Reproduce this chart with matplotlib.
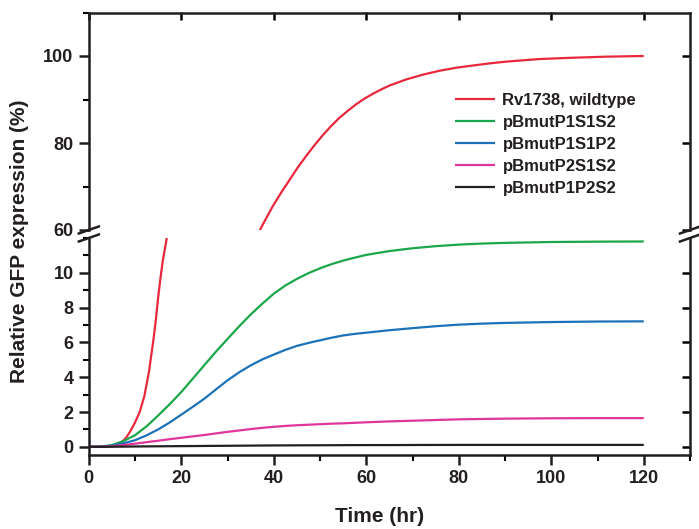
import numpy as np
import matplotlib
matplotlib.use("Agg")
import matplotlib.pyplot as plt
from matplotlib.ticker import MultipleLocator

plt.rcParams['font.family'] = ['Liberation Sans', 'DejaVu Sans']
plt.rcParams['font.weight'] = 'bold'

# ---- data ----
red_time = [0, 2, 3, 4, 5, 6, 7, 8, 9, 10, 11, 12, 13, 14, 14.5, 15, 15.5, 16, 16.8,
            36.9, 38.0, 39.8, 41.6, 43.4, 45.2, 47.0, 48.8, 50.6, 52.4, 54.2, 56.0,
            57.8, 59.6, 61.4, 63.2, 65.0, 68.6, 72.2, 75.8, 79.4, 83.0, 86.6, 90.2,
            97.4, 104.6, 112, 120]
red_value = [0, 0, 0, 0.03, 0.08, 0.15, 0.25, 0.5, 0.9, 1.4, 2.0, 2.9, 4.3, 6.2, 7.3,
             8.6, 9.7, 10.7, 11.9,
             59.8, 62.0, 65.5, 68.6, 71.5, 74.4, 77.0, 79.5, 81.8, 83.9, 85.8, 87.4,
             88.9, 90.2, 91.3, 92.3, 93.2, 94.6, 95.7, 96.6, 97.3, 97.8, 98.3, 98.7,
             99.3, 99.6, 99.85, 100]

time = [0, 2.5, 5, 7.5, 10, 12.5, 15, 17.5, 20, 22.5, 25, 27.5, 30, 32.5, 35, 37.5,
        40, 42.5, 45, 47.5, 50, 52.5, 55, 57.5, 60, 65, 70, 75, 80, 85, 90, 100,
        110, 120]
green = [0, 0.01, 0.1, 0.33, 0.67, 1.18, 1.8, 2.45, 3.15, 3.92, 4.7, 5.47, 6.2,
         6.92, 7.6, 8.22, 8.8, 9.27, 9.65, 9.98, 10.26, 10.5, 10.7, 10.87, 11.03,
         11.25, 11.41, 11.53, 11.62, 11.68, 11.72, 11.77, 11.79, 11.8]
blue = [0, 0.01, 0.06, 0.2, 0.38, 0.66, 1.0, 1.4, 1.85, 2.3, 2.77, 3.3, 3.82, 4.28,
        4.68, 5.02, 5.3, 5.57, 5.8, 5.97, 6.12, 6.27, 6.4, 6.49, 6.56, 6.7, 6.82,
        6.93, 7.02, 7.08, 7.12, 7.17, 7.2, 7.21]
magenta = [0, 0, 0.03, 0.1, 0.18, 0.27, 0.35, 0.44, 0.52, 0.6, 0.68, 0.77, 0.86,
           0.94, 1.02, 1.09, 1.15, 1.2, 1.24, 1.27, 1.3, 1.33, 1.35, 1.38, 1.41,
           1.46, 1.5, 1.54, 1.58, 1.6, 1.62, 1.64, 1.65, 1.65]
black = [0, 0, 0.005, 0.01, 0.02, 0.025, 0.03, 0.035, 0.04, 0.045, 0.05, 0.055,
         0.06, 0.065, 0.07, 0.075, 0.08, 0.082, 0.085, 0.088, 0.09, 0.092, 0.095,
         0.098, 0.1, 0.1, 0.105, 0.108, 0.11, 0.11, 0.11, 0.11, 0.11, 0.11]

labels = ["Rv1738, wildtype", "pBmutP1S1S2", "pBmutP1S1P2", "pBmutP2S1S2",
          "pBmutP1P2S2"]
colors = ["#e8283c", "#1aa64a", "#1c72b8", "#e0359b", "#231f20"]

xticks = [0, 20, 40, 60, 80, 100, 120]
lower_yticks = [0, 2, 4, 6, 8, 10]
upper_yticks = [60, 80, 100]

# ---- figure ----
W, H = 699, 529
fig = plt.figure(figsize=(W / 100, H / 100), dpi=100)
left = 88.8 / W
right = 690 / W
ax_lo = fig.add_axes([left, 1 - 455 / H, right - left, (455 - 238) / H])
ax_hi = fig.add_axes([left, 1 - 230 / H, right - left, (230 - 12.5) / H])

lw = 1.6
series = [(red_time, red_value)] + [(time, s) for s in (green, blue, magenta, black)]
for ax in (ax_lo, ax_hi):
    for (tx, vy), c, lab in zip(series, colors, labels):
        ax.plot(tx, vy, color=c, lw=lw, label=lab, solid_capstyle='butt',
                solid_joinstyle='round')
    ax.set_xlim(0, 130)
    for sp in ax.spines.values():
        sp.set_linewidth(1.8)
        sp.set_color('#231f20')

ax_lo.set_ylim(-0.47, 12)
ax_hi.set_ylim(60, 110)

ax_lo.spines['top'].set_visible(False)
ax_hi.spines['bottom'].set_visible(False)

ax_lo.set_xticks(xticks)
ax_lo.xaxis.set_minor_locator(MultipleLocator(10))
ax_lo.set_yticks(lower_yticks)
ax_lo.yaxis.set_minor_locator(MultipleLocator(1))
ax_hi.set_xticks(xticks)
ax_hi.set_yticks(upper_yticks)
ax_hi.yaxis.set_minor_locator(MultipleLocator(10))

tick_kw = dict(colors='#231f20', labelcolor='#231f20', labelsize=13)
ax_lo.tick_params(axis='x', which='major', direction='out', length=7, width=1.8,
                  pad=4, bottom=True, top=False, **tick_kw)
ax_lo.tick_params(axis='x', which='minor', direction='out', length=4, width=1.5,
                  bottom=True, top=False)
ax_lo.tick_params(axis='y', which='major', direction='out', length=7, width=1.8,
                  pad=4, left=True, right=False, **tick_kw)
ax_lo.tick_params(axis='y', which='minor', direction='out', length=4, width=1.5,
                  left=True, right=False)

ax_hi.tick_params(axis='x', which='both', bottom=False, labelbottom=False)
ax_hi.tick_params(axis='x', which='minor', top=False)
ax_hi.tick_params(axis='y', which='major', direction='out', length=7, width=1.8,
                  pad=4, left=True, right=False, **tick_kw)
ax_hi.tick_params(axis='y', which='minor', direction='out', length=4, width=1.5,
                  left=True, right=False)

# inward mirror ticks (top and right), majors only
sec_top = ax_hi.secondary_xaxis('top')
sec_top.set_xticks(xticks)
sec_top.tick_params(direction='in', length=6, width=1.8, labeltop=False)
sec_top.spines['top'].set_visible(False)
for ax in (ax_lo, ax_hi):
    sec_r = ax.secondary_yaxis('right')
    sec_r.set_yticks(ax.get_yticks())
    sec_r.tick_params(direction='in', length=6, width=1.8, labelright=False)
    sec_r.spines['right'].set_visible(False)

for lab in ax_lo.get_xticklabels() + ax_lo.get_yticklabels() + ax_hi.get_yticklabels():
    lab.set_fontweight('bold')

# break marks
axw = (right - left) * W
dx = 10 / axw
for ax, yb in ((ax_lo, 1.0), (ax_hi, 0.0)):
    axh = ax.get_position().height * H
    dy = 3.5 / axh
    for xb in (0.0, 1.0):
        ax.plot([xb - dx, xb + dx], [yb - dy, yb + dy], transform=ax.transAxes,
                color='#231f20', lw=1.8, clip_on=False)

# labels
fig.text(20 / W, 1 - 241 / H, "Relative GFP expression (%)", rotation=90,
         ha='center', va='center', fontsize=15, fontweight='bold', color='#231f20')
fig.text((89 + 602 / 2 - 10) / W, 1 - 516 / H, "Time (hr)", ha='center', va='center',
         fontsize=15, fontweight='bold', color='#231f20')

# legend
handles, labs = ax_hi.get_legend_handles_labels()
leg = ax_hi.legend(handles, labs, loc='upper left',
                   bbox_to_anchor=(455 / W, 1 - 93 / H), bbox_transform=fig.transFigure,
                   frameon=False, fontsize=12, handlelength=2.4, handletextpad=0.45,
                   labelspacing=0.42, borderpad=0, borderaxespad=0)
for t in leg.get_texts():
    t.set_fontweight('bold')
    t.set_color('#231f20')

fig.savefig("out.png", dpi=100)
